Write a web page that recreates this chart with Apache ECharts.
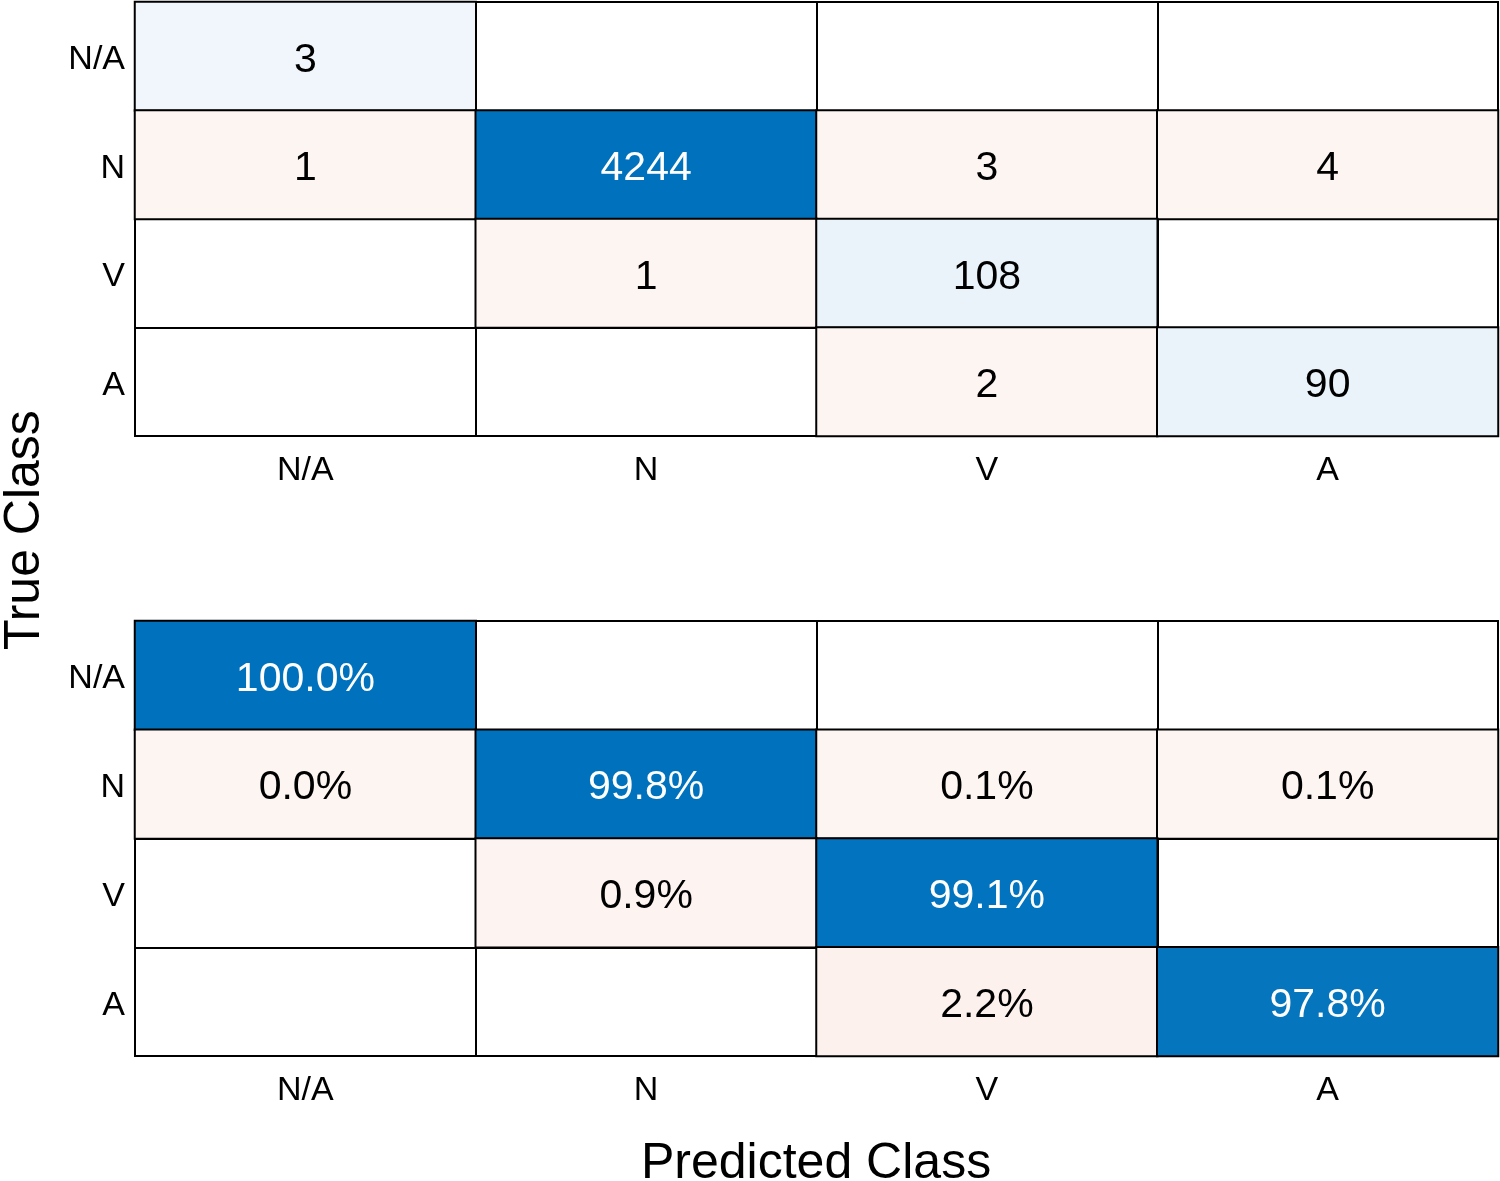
<!DOCTYPE html>
<html>
<head>
<meta charset="utf-8">
<script src="https://cdn.jsdelivr.net/npm/echarts@6/dist/echarts.min.js"></script>
<style>html,body{margin:0;padding:0;background:#fff;}#c{width:1500px;height:1181px;}</style>
</head>
<body>
<div id="c"></div>
<script>
// ---- data ----
const classes = ['N/A', 'N', 'V', 'A'];
// counts[trueRow][predCol]; null = empty cell
const counts = [
  [3, null, null, null],
  [1, 4244, 3, 4],
  [null, 1, 108, null],
  [null, null, 2, 90]
];
// row-normalized percentages as printed
const percents = [
  [100.0, null, null, null],
  [0.0, 99.8, 0.1, 0.1],
  [null, 0.9, 99.1, null],
  [null, null, 2.2, 97.8]
];
const xTitle = 'Predicted Class';
const yTitle = 'True Class';

// ---- styling helpers ----
function hex(c){return [parseInt(c.slice(1,3),16),parseInt(c.slice(3,5),16),parseInt(c.slice(5,7),16)];}
function mix(a,b,t){const A=hex(a),B=hex(b);return 'rgb('+A.map((v,i)=>Math.round(v+(B[i]-v)*t)).join(',')+')';}
const FONT = '"Liberation Sans", Arial, Helvetica, sans-serif';

function buildData(mat){
  let mx = 0;
  mat.forEach(r=>r.forEach(v=>{ if(v!=null && v>mx) mx=v; }));
  const out = [];
  mat.forEach((row, r) => row.forEach((v, c) => {
    if (v == null) return;
    const t = v / mx;
    const diag = r === c;
    const color = diag ? mix('#F0F6FB', '#0072BD', t) : mix('#FDF5F2', '#D95319', t*1.2);
    const dark = diag && t > 0.5;
    out.push({
      value: [c, r, v],
      itemStyle: { color: color },
      label: { color: dark ? '#ffffff' : '#000000' }
    });
  }));
  return out;
}

const grids = [
  { left: 135, right: 2, top: 2, height: 434, show: true, borderColor: '#000', borderWidth: 2, backgroundColor: '#fff' },
  { left: 135, right: 2, top: 621, height: 435, show: true, borderColor: '#000', borderWidth: 2, backgroundColor: '#fff' }
];

function xAx(i){
  return {
    type: 'category', data: classes, gridIndex: i, position: 'bottom',
    axisLine: { show: true, lineStyle: { color: '#000', width: 2 } },
    axisTick: { show: false },
    splitLine: { show: true, interval: 0, lineStyle: { color: '#000', width: 2 } },
    axisLabel: { interval: 0, margin: 18, fontSize: 34, color: '#000', fontFamily: FONT }
  };
}
function yAx(i){
  return {
    type: 'category', data: classes, gridIndex: i, inverse: true,
    axisLine: { show: true, lineStyle: { color: '#000', width: 2 } },
    axisTick: { show: false },
    splitLine: { show: true, interval: 0, lineStyle: { color: '#000', width: 2 } },
    axisLabel: {
      interval: 0, margin: 10, color: '#000',
      formatter: v => '{a|' + v + '}',
      rich: { a: { fontSize: 34, fontFamily: FONT, color: '#000', padding: [7, 0, 0, 0] } }
    }
  };
}

function heat(i, mat, fmt){
  return {
    type: 'heatmap', xAxisIndex: i, yAxisIndex: i,
    data: buildData(mat),
    itemStyle: { borderColor: '#000', borderWidth: 2 },
    label: { show: true, fontSize: 41, fontFamily: FONT, offset: [0, 4], formatter: p => fmt(p.value[2]) },
    emphasis: { disabled: true }
  };
}

const chart = echarts.init(document.getElementById('c'), null, { renderer: 'canvas' });
chart.setOption({
  backgroundColor: '#fff',
  animation: false,
  grid: grids,
  xAxis: [xAx(0), xAx(1)],
  yAxis: [yAx(0), yAx(1)],
  series: [
    heat(0, counts, v => String(v)),
    heat(1, percents, v => v.toFixed(1) + '%')
  ],
  graphic: [
    { type: 'text', left: 641, top: 1139,
      style: { text: xTitle, fontSize: 50, fontFamily: FONT, fill: '#000' } },
    { type: 'text', x: 0, y: 650, rotation: Math.PI/2, originX: 0, originY: 0,
      style: { text: yTitle, fontSize: 50, fontFamily: FONT, fill: '#000', align: 'left', verticalAlign: 'top' } }
  ]
});
</script>
</body>
</html>
